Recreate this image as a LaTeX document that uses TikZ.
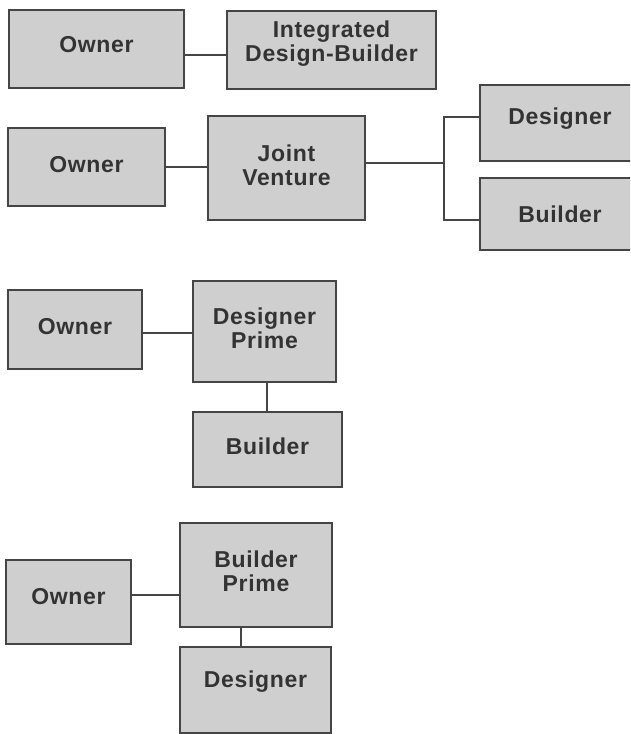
\documentclass[tikz,border=0pt]{standalone}
\usepackage{fontspec}
\setmainfont{Liberation Sans}[LetterSpace=3]
\usetikzlibrary{calc}
\definecolor{boxfill}{HTML}{CFCFCF}
\definecolor{boxline}{HTML}{454545}
\definecolor{boxtext}{HTML}{333333}
\begin{document}
\begin{tikzpicture}[x=1pt,y=-1pt,
  orgbox/.style={draw=boxline,fill=boxfill,line width=1.9pt,rectangle,
    inner sep=0pt,align=center,text=boxtext,
    font=\fontsize{23}{24}\selectfont\bfseries},
  % depth below the last baseline, used to sit the label a little high
  lift/.style={text depth=#1pt},
  link/.style={draw=boxline,line width=1.9pt}]
\useasboundingbox (0,0) rectangle (630,734);
\clip (0,0) rectangle (630,734);
\fill[white] (0,0) rectangle (630,734);

% integrated design-build
\node[orgbox,lift=9,minimum width=175pt,minimum height=78pt] (o1) at (96.5,49) {Owner};
\node[orgbox,lift=17,minimum width=209pt,minimum height=78pt] (idb) at (331.5,50) {Integrated\\Design-Builder};
\draw[link] (o1.east |- 0,55) -- (idb.west |- 0,55);

% joint venture
\node[orgbox,lift=5,minimum width=157pt,minimum height=78pt] (o2) at (86.5,167) {Owner};
\node[orgbox,lift=6,minimum width=157pt,minimum height=104pt] (jv) at (286.5,168) {Joint\\Venture};
\node[orgbox,lift=13,minimum width=160pt,minimum height=76pt] (des2) at (560,123) {Designer};
\node[orgbox,lift=0,minimum width=160pt,minimum height=72pt] (bld2) at (560,214) {Builder};
\coordinate (fork) at (444,163);
\draw[link] (o2.east |- 0,167) -- (jv.west |- 0,167);
\draw[link] (jv.east |- fork) -- (fork);
\draw[link] (des2.west |- 0,117) -| (fork) |- (bld2.west |- 0,220);

% designer prime
\node[orgbox,lift=7,minimum width=134pt,minimum height=79pt] (o3) at (75,329.5) {Owner};
\node[orgbox,lift=7,minimum width=143pt,minimum height=101pt] (dp) at (264.5,331.5) {Designer\\Prime};
\node[orgbox,lift=7,minimum width=149pt,minimum height=75pt] (bld3) at (267.5,449.5) {Builder};
\draw[link] (o3.east |- 0,333) -- (dp.west |- 0,333);
\draw[link] (dp.south -| 267,0) -- (bld3.north -| 267,0);

% builder prime
\node[orgbox,lift=12,minimum width=125pt,minimum height=84pt] (o4) at (68.5,602) {Owner};
\node[orgbox,lift=8,minimum width=152pt,minimum height=104pt] (bp) at (256,575) {Builder\\Prime};
\node[orgbox,lift=22,minimum width=151pt,minimum height=86pt] (des4) at (255.5,690) {Designer};
\draw[link] (o4.east |- 0,595) -- (bp.west |- 0,595);
\draw[link] (bp.south -| 241,0) -- (des4.north -| 241,0);
\end{tikzpicture}
\end{document}
